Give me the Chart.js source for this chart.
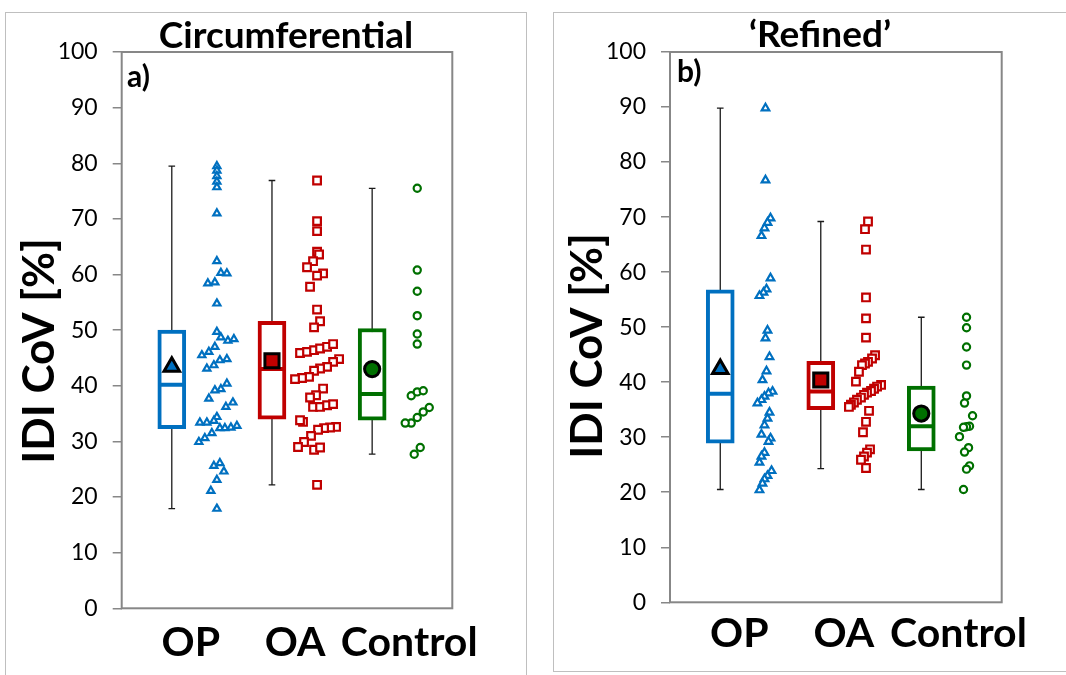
<!DOCTYPE html>
<html>
<head>
<meta charset="utf-8">
<script src="https://cdn.jsdelivr.net/npm/chart.js@4.4.1/dist/chart.umd.min.js"></script>
<style>
  html, body { margin: 0; padding: 0; background: #fff; }
  body { width: 1066px; height: 675px; position: relative; overflow: hidden; }
  .frame { position: absolute; border: 1px solid #bfbfbf; box-sizing: border-box; }
  #frameA { left: 5px; top: 12px; width: 522px; height: 700px; }
  #frameB { left: 553px; top: 12px; width: 540px; height: 660px; }
  canvas { position: absolute; top: 0; }
  #chartA { left: 0; }
  #chartB { left: 540px; }
</style>
</head>
<body>
<div class="frame" id="frameA"></div>
<div class="frame" id="frameB"></div>
<canvas id="chartA" width="540" height="675"></canvas>
<canvas id="chartB" width="526" height="675"></canvas>
<script>
// ---- groups and axis labels ----
const groups = ['OP', 'OA', 'Control'];
const yTickValues = [0, 10, 20, 30, 40, 50, 60, 70, 80, 90, 100];
// centre of each group label on the x axis (box sits at 1, 2, 3)
const groupLabelPos = [1.19, 2.23, 3.37];

// ---- a) Circumferential: box statistics per group ----
const circMin    = [17.9, 22.2, 27.7];
const circQ1     = [32.3, 34.0, 33.8];
const circMedian = [40.2, 43.0, 38.5];
const circQ3     = [50.0, 51.6, 50.3];
const circMax    = [79.5, 76.9, 75.5];
const circMean   = [43.4, 44.5, 43.0];

// ---- a) Circumferential: individual subjects ----
const circOP = [79.5, 78.7, 77.7, 76.7, 75.7, 71.0, 62.4, 60.3, 60.2, 58.4, 58.6, 54.8, 49.7,
  48.7, 48.1, 48.4, 47.0, 46.1, 45.5, 44.6, 44.8, 43.7, 43.1, 40.4, 39.4, 39.2, 37.7, 37.0,
  36.2, 34.4, 33.7, 33.4, 33.4, 32.4, 32.4, 32.5, 32.8, 31.5, 30.6, 29.9, 25.6, 26.1, 24.6,
  23.1, 21.1, 17.9];
const circOPJitter = [0, 0, 0, 0, 0, 0, 0, 0.04, 0.10, -0.09, -0.02, 0, 0, 0.04, 0.11, 0.17,
  -0.02, -0.08, -0.15, 0.03, 0.10, -0.03, -0.10, 0.10, 0.04, -0.02, -0.08, 0.16, 0.09, 0,
  -0.03, -0.10, -0.17, 0.03, 0.08, 0.14, 0.20, -0.05, -0.12, -0.18, -0.03, 0.03, 0.07, 0,
  -0.06, 0];

const circOA = [76.9, 69.6, 67.8, 64.1, 63.6, 62.4, 61.3, 60.2, 59.8, 57.8, 53.7, 51.6, 50.5,
  45.9, 46.1, 46.4, 46.7, 47.0, 47.5, 44.8, 44.3, 43.4, 43.1, 42.7, 41.6, 41.4, 41.2, 39.5,
  38.3, 37.9, 36.2, 36.2, 36.5, 36.7, 33.5, 33.8, 32.6, 32.5, 32.4, 32.1, 31.0, 29.9, 29.0,
  28.5, 28.9, 22.2];
const circOAJitter = [0, 0, 0, 0, 0.02, -0.04, -0.10, 0.06, 0, -0.07, 0, 0.03, -0.03, -0.17,
  -0.10, -0.03, 0.03, 0.10, 0.16, 0.22, 0.16, 0.10, 0.03, -0.03, -0.08, -0.15, -0.22, 0.06,
  -0.01, -0.07, -0.04, 0.03, 0.10, 0.16, -0.14, -0.17, 0.19, 0.13, 0.07, 0.01, -0.06, -0.13,
  -0.19, -0.03, 0.03, 0];

const circControl = [75.5, 60.8, 57.0, 52.6, 49.3, 47.5, 38.2, 38.9, 39.1, 36.1, 35.3, 34.3,
  33.3, 33.3, 28.9, 27.7];
const circControlJitter = [0, 0, 0, 0, 0, 0, -0.06, 0, 0.06, 0.12, 0.06, 0, -0.06, -0.12,
  0.03, -0.03];

// ---- b) 'Refined': box statistics per group ----
const refMin    = [20.5, 24.3, 20.5];
const refQ1     = [28.9, 35.0, 27.5];
const refMedian = [37.9, 38.3, 32.0];
const refQ3     = [56.8, 43.8, 39.3];
const refMax    = [89.8, 69.2, 51.8];
const refMean   = [42.4, 40.4, 34.3];

// ---- b) 'Refined': individual subjects ----
const refOP = [89.8, 76.7, 69.8, 69.0, 68.0, 66.6, 58.9, 56.9, 56.3, 55.7, 49.4, 48.0, 44.6,
  42.0, 40.4, 38.3, 38.0, 37.4, 36.8, 36.2, 34.5, 33.4, 32.2, 30.5, 29.8, 29.2, 27.2, 26.5,
  25.4, 23.9, 23.0, 22.4, 21.6, 20.4];
const refOPJitter = [0, 0, 0.05, 0.02, -0.01, -0.04, 0.05, 0.01, -0.02, -0.06, 0.02, 0, 0.04,
  0.01, -0.03, 0.07, 0.03, -0.01, -0.04, -0.08, 0.04, 0.02, -0.01, -0.04, 0.05, 0.03, -0.01,
  -0.04, -0.06, 0.06, 0.02, -0.01, -0.03, -0.06];

const refOA = [69.2, 67.8, 64.1, 55.4, 51.6, 48.1, 44.9, 44.3, 43.7, 43.4, 43.1, 41.9, 40.1,
  39.5, 39.2, 38.8, 38.4, 38.1, 37.7, 37.2, 36.8, 36.3, 35.9, 35.5, 34.8, 32.8, 30.9, 27.8,
  27.2, 26.5, 25.9, 24.4];
const refOAJitter = [0.02, -0.01, 0, 0, 0, 0, 0.09, 0.06, 0.02, -0.01, -0.04, -0.07, -0.10,
  0.15, 0.11, 0.08, 0.05, 0.01, -0.02, -0.05, -0.09, -0.12, -0.15, -0.17, 0.03, 0, -0.03,
  0.04, 0.01, -0.02, -0.05, 0];

const refControl = [51.8, 49.9, 46.4, 43.1, 37.5, 36.2, 33.9, 32.0, 31.9, 31.8, 30.1, 28.1,
  27.3, 24.8, 24.2, 20.5];
const refControlJitter = [0, 0, 0, 0, 0, -0.02, 0.06, 0.03, 0, -0.03, -0.07, 0.02, -0.02,
  0.03, 0, -0.03];

// ---- styling ----
const groupColors = ['#0070C0', '#C00000', '#007000'];
const groupMarkers = ['triangle', 'rect', 'circle'];
const FONT = 'Lato, Carlito, "Open Sans", sans-serif';
const CAP_HALF = 0.033;      // whisker cap half width (x units)
const MEDIAN_HALF = 0.13;    // median bar half width (x units)
const DOT_SHIFT = 0.45;      // subject dots sit to the right of each box

// plot-area frame, panel title, panel letter and rotated y title
const panelDecor = {
  id: 'panelDecor',
  beforeDatasetsDraw(chart, args, o) {
    const { ctx, chartArea: a } = chart;
    ctx.save();
    ctx.strokeStyle = '#878787';
    ctx.lineWidth = 2;
    ctx.strokeRect(a.left, a.top, a.right - a.left, a.bottom - a.top);
    ctx.restore();
  },
  afterDraw(chart, args, o) {
    const { ctx } = chart;
    ctx.save();
    ctx.fillStyle = '#000';
    ctx.textBaseline = 'alphabetic';
    ctx.textAlign = 'center';
    ctx.font = 'bold ' + o.titleSize + 'px ' + FONT;
    ctx.fillText(o.title, o.titleX, o.titleY);
    ctx.textAlign = 'left';
    ctx.font = 'bold ' + o.letterSize + 'px ' + FONT;
    ctx.fillText(o.letter, o.letterX, o.letterY);
    ctx.translate(o.yTitleX, o.yTitleY);
    ctx.rotate(-Math.PI / 2);
    ctx.textAlign = 'center';
    ctx.font = 'bold ' + o.yTitleSize + 'px ' + FONT;
    ctx.fillText(o.yTitle, 0, 0);
    ctx.restore();
  }
};

function buildDatasets(stats, subjects, jitters, dotRadius) {
  const ds = [];
  groups.forEach((g, i) => {
    const cx = i + 1;
    // whisker with caps, drawn as one polyline
    ds.push({
      type: 'line', order: 5,
      data: [
        { x: cx - CAP_HALF, y: stats.min[i] }, { x: cx + CAP_HALF, y: stats.min[i] },
        { x: cx, y: stats.min[i] }, { x: cx, y: stats.max[i] },
        { x: cx - CAP_HALF, y: stats.max[i] }, { x: cx + CAP_HALF, y: stats.max[i] }
      ],
      borderColor: '#1a1a1a', borderWidth: 1.3, pointRadius: 0, tension: 0, fill: false
    });
    // median
    ds.push({
      type: 'line', order: 3,
      data: [{ x: cx - MEDIAN_HALF, y: stats.median[i] }, { x: cx + MEDIAN_HALF, y: stats.median[i] }],
      borderColor: groupColors[i], borderWidth: 4, pointRadius: 0, tension: 0, fill: false
    });
    // subjects
    ds.push({
      type: 'line', order: 2, showLine: false,
      data: subjects[i].map((v, k) => ({ x: cx + DOT_SHIFT + jitters[i][k], y: v })),
      pointStyle: groupMarkers[i],
      pointRadius: dotRadius[i],
      pointBorderWidth: 2.2,
      pointBorderColor: groupColors[i],
      pointBackgroundColor: '#fff'
    });
    // group mean
    ds.push({
      type: 'line', order: 1, showLine: false,
      data: [{ x: cx, y: stats.mean[i] }],
      pointStyle: groupMarkers[i],
      pointRadius: [9, 10, 7.6][i],
      pointBorderWidth: 3,
      pointBorderColor: '#000',
      pointBackgroundColor: groupColors[i]
    });
  });
  // interquartile boxes
  ds.push({
    type: 'bar', order: 4,
    data: groups.map((g, i) => ({ x: i + 1, y: [stats.q1[i], stats.q3[i]] })),
    backgroundColor: '#fff',
    borderColor: groupColors,
    borderWidth: 4,
    borderSkipped: false,
    barThickness: 28
  });
  return ds;
}

function makeChart(canvasId, stats, subjects, jitters, dotRadius, g, decor) {
  return new Chart(document.getElementById(canvasId), {
    type: 'scatter',
    data: { datasets: buildDatasets(stats, subjects, jitters, dotRadius) },
    options: {
      responsive: false,
      animation: false,
      events: [],
      layout: { padding: { left: 0, top: g.top, right: g.w - g.right, bottom: 0 } },
      scales: {
        x: {
          type: 'linear', min: 0.5, max: 3.8, offset: false,
          grid: { display: false, drawTicks: false },
          border: { display: false },
          afterBuildTicks: (axis) => { axis.ticks = groupLabelPos.map(v => ({ value: v })); },
          afterFit: (axis) => { axis.height = g.h - g.bottom; },
          ticks: {
            autoSkip: false, maxRotation: 0, minRotation: 0,
            padding: g.labelPad,
            color: '#000',
            font: { family: FONT, size: 41, weight: 'bold' },
            callback: (v, idx) => groups[idx]
          }
        },
        y: {
          type: 'linear', min: 0, max: 100,
          afterBuildTicks: (axis) => { axis.ticks = yTickValues.map(v => ({ value: v })); },
          afterFit: (axis) => { axis.width = g.left; },
          grid: { drawOnChartArea: false, drawTicks: true, tickLength: 9, color: '#878787', lineWidth: 1.5 },
          border: { display: false },
          ticks: {
            padding: 15, color: '#000',
            font: { family: FONT, size: 23 },
            callback: (v) => String(v)
          }
        }
      },
      plugins: {
        legend: { display: false },
        tooltip: { enabled: false },
        panelDecor: decor
      }
    },
    plugins: [panelDecor]
  });
}

const geomA = { w: 540, h: 675, left: 121.7, right: 452.3, top: 52, bottom: 608.3, labelPad: 10 };
const geomB = { w: 526, h: 675, left: 130, right: 461.7, top: 52, bottom: 602.3, labelPad: 7 };

makeChart('chartA',
  { min: circMin, q1: circQ1, median: circMedian, q3: circQ3, max: circMax, mean: circMean },
  [circOP, circOA, circControl],
  [circOPJitter, circOAJitter, circControlJitter],
  [4.1, 5.4, 3.6], geomA,
  { title: 'Circumferential', titleSize: 37, titleX: 286, titleY: 48,
    letter: 'a)', letterSize: 30, letterX: 127, letterY: 87,
    yTitle: 'IDI CoV [%]', yTitleSize: 44, yTitleX: 54, yTitleY: 351 });

makeChart('chartB',
  { min: refMin, q1: refQ1, median: refMedian, q3: refQ3, max: refMax, mean: refMean },
  [refOP, refOA, refControl],
  [refOPJitter, refOAJitter, refControlJitter],
  [4.4, 5.4, 3.6], geomB,
  { title: '\u2018Refined\u2019', titleSize: 37, titleX: 280, titleY: 47,
    letter: 'b)', letterSize: 30, letterX: 137, letterY: 82,
    yTitle: 'IDI CoV [%]', yTitleSize: 44, yTitleX: 62, yTitleY: 346 });
</script>
</body>
</html>
